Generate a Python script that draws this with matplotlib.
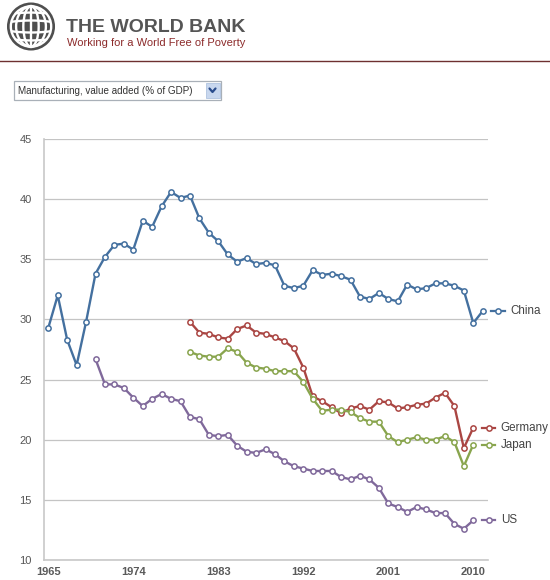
import numpy as np
import matplotlib
matplotlib.use("Agg")
import matplotlib.pyplot as plt
from matplotlib.patches import Circle, Ellipse, Rectangle
from matplotlib.transforms import ScaledTranslation
from matplotlib.lines import Line2D

plt.rcParams['font.family'] = ['Liberation Sans', 'DejaVu Sans']

# ---- data ----
series_names = ["China", "Germany", "Japan", "US"]
china_years = list(range(1965, 2012))
china_vals = [29.3, 32.0, 28.3, 26.2, 29.8, 33.8, 35.2, 36.2, 36.3, 35.8,
              38.2, 37.7, 39.4, 40.6, 40.1, 40.3, 38.4, 37.2, 36.5, 35.4,
              34.8, 35.1, 34.6, 34.7, 34.5, 32.8, 32.6, 32.8, 34.1, 33.7,
              33.8, 33.6, 33.3, 31.9, 31.7, 32.2, 31.7, 31.5, 32.9, 32.5,
              32.6, 33.0, 33.0, 32.8, 32.4, 29.7, 30.7]
germany_years = list(range(1980, 2011))
germany_vals = [29.8, 28.9, 28.8, 28.5, 28.4, 29.2, 29.5, 28.9, 28.8, 28.5,
                28.2, 27.6, 26.0, 23.6, 23.2, 22.7, 22.2, 22.6, 22.8, 22.5,
                23.2, 23.1, 22.6, 22.7, 22.9, 23.0, 23.5, 23.9, 22.8, 19.3, 21.0]
japan_years = list(range(1980, 2011))
japan_vals = [27.3, 27.0, 26.9, 26.9, 27.6, 27.3, 26.4, 26.0, 25.9, 25.7,
              25.7, 25.7, 24.8, 23.4, 22.4, 22.5, 22.5, 22.3, 21.8, 21.5,
              21.5, 20.3, 19.8, 20.0, 20.2, 20.0, 20.0, 20.3, 19.8, 17.8, 19.6]
us_years = list(range(1970, 2011))
us_vals = [26.7, 24.6, 24.6, 24.3, 23.5, 22.8, 23.4, 23.8, 23.4, 23.2,
           21.9, 21.7, 20.4, 20.3, 20.4, 19.5, 19.0, 18.9, 19.2, 18.8,
           18.2, 17.8, 17.6, 17.4, 17.4, 17.4, 16.9, 16.7, 17.0, 16.7,
           16.0, 14.7, 14.4, 14.0, 14.4, 14.2, 13.9, 13.9, 13.0, 12.6, 13.3]
x_ticks = [1965, 1974, 1983, 1992, 2001, 2010]
y_ticks = [10, 15, 20, 25, 30, 35, 40, 45]
indicator = "Manufacturing, value added (% of GDP)"

colors = ["#44709F", "#AA4643", "#89A54E", "#80699B"]

W, H = 550, 580
fig = plt.figure(figsize=(W / 100, H / 100), dpi=100)
fig.patch.set_facecolor("white")

def px_box(x0, y0, x1, y1):
    return [x0 / W, 1 - y1 / H, (x1 - x0) / W, (y1 - y0) / H]

# ---- header overlay in pixel coords ----
hdr = fig.add_axes([0, 0, 1, 1], zorder=0)
hdr.set_xlim(0, W)
hdr.set_ylim(H, 0)
hdr.axis("off")
hdr.text(66, 32.5, "THE WORLD BANK", fontsize=14, fontweight="bold",
         color="#555555", va="baseline", ha="left")
hdr.text(67, 46, "Working for a World Free of Poverty", fontsize=8,
         color="#8C2B2B", va="baseline", ha="left")
hdr.plot([0, W], [60.5, 60.5], color="#6E3030", lw=1.0)
# dropdown
hdr.add_patch(Rectangle((14, 81), 207, 19, facecolor="white",
                        edgecolor="#A9B0B8", lw=0.9))
hdr.text(18, 91, indicator, fontsize=7.1, color="#333333",
         va="center", ha="left")
hdr.add_patch(Rectangle((205.5, 83), 14, 15, facecolor="#C8D7EE",
                        edgecolor="#AFC3E0", lw=0.6))
hdr.plot([209.5, 212.5, 215.5], [88.5, 92, 88.5], color="#2A4C8C",
         lw=1.6, solid_capstyle="round")

# ---- globe logo ----
lg = fig.add_axes(px_box(6, 2, 56, 51), zorder=1)
lg.set_xlim(-1.02, 1.02)
lg.set_ylim(-1.02, 1.02)
lg.set_aspect("equal")
lg.axis("off")
lg.add_patch(Circle((0, 0), 1.0, facecolor="#4F4F4F", edgecolor="none"))
clip = Circle((0, 0), 0.84, transform=lg.transData)
wc = "white"
lw_g = 1.7
lg.add_patch(Circle((0, 0), 0.84, facecolor="none", edgecolor=wc, lw=lw_g))
for wdt in [0.32, 0.62]:
    lg.add_patch(Ellipse((0, 0), 2 * wdt, 1.68, facecolor="none",
                         edgecolor=wc, lw=lw_g))
lg.plot([0, 0], [-0.84, 0.84], color=wc, lw=lw_g)
t = np.linspace(-1, 1, 60)
for yy in [-0.5, -0.17, 0.17, 0.5]:
    l, = lg.plot(t, yy + 0.08 * np.sign(yy) * (1 - t ** 2), color=wc, lw=lw_g)
    l.set_clip_path(clip)

# ---- chart ----
ax = fig.add_axes(px_box(44, 139, 488, 560), zorder=2)
ax.patch.set_alpha(0)
ax.set_xlim(1965 - 4.3 / 9.444, 1965 + (488 - 48.3) / 9.444)
ax.set_ylim(10, 45)
for s in ["top", "right"]:
    ax.spines[s].set_visible(False)
ax.spines["left"].set_color("#C8C8C8")
ax.spines["left"].set_linewidth(1.2)
ax.spines["bottom"].set_color("#C8C8C8")
ax.spines["bottom"].set_linewidth(1.2)
ax.set_yticks(y_ticks)
ax.set_xticks(x_ticks)
ax.set_xticklabels([str(v) for v in x_ticks])
ax.tick_params(axis="both", length=0, labelsize=8, colors="#555555")
ax.tick_params(axis="y", pad=9)
ax.tick_params(axis="x", pad=5)
for lab in ax.get_xticklabels():
    lab.set_fontweight("bold")
    lab.set_color("#5A5A5A")
ax.grid(axis="y", color="#C4C4C4", lw=0.9)
ax.set_axisbelow(True)

all_years = [china_years, germany_years, japan_years, us_years]
all_vals = [china_vals, germany_vals, japan_vals, us_vals]
fig.canvas.draw()
fig_tr = fig.transFigure.inverted()
for name, yrs, vals, c in zip(series_names, all_years, all_vals, colors):
    ax.plot(yrs, vals, color=c, lw=1.7, marker="o", markersize=3.8,
            markerfacecolor="white", markeredgecolor=c, markeredgewidth=1.1,
            zorder=3)
    # end-of-line label, placed relative to the last data point
    lx, ly = yrs[-1], vals[-1]
    p0 = ax.transData.transform((lx, ly))
    a = fig_tr.transform((p0[0] + 8.5, p0[1]))
    b = fig_tr.transform((p0[0] + 22, p0[1]))
    m = fig_tr.transform((p0[0] + 15.5, p0[1]))
    fig.add_artist(Line2D([a[0], b[0]], [a[1], b[1]], color=c, lw=1.6,
                          transform=fig.transFigure, zorder=4))
    fig.add_artist(Line2D([m[0]], [m[1]], color=c, marker="o", markersize=3.8,
                          markerfacecolor="white", markeredgecolor=c,
                          markeredgewidth=1.1, transform=fig.transFigure,
                          zorder=5))
    trt = ax.transData + ScaledTranslation(27.5 / 100, 0, fig.dpi_scale_trans)
    ax.text(lx, ly, name, transform=trt, fontsize=8.4, color="#444444",
            va="center", ha="left", clip_on=False)

fig.savefig("out.png", dpi=100, facecolor="white")
